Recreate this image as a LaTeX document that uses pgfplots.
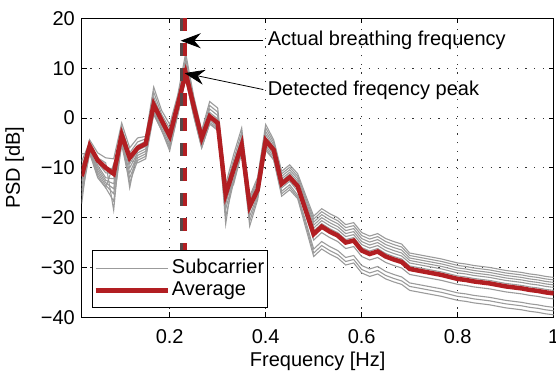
\documentclass[border=0pt]{standalone}
\usepackage{fontspec}
\setmainfont{Liberation Sans}
\usepackage{pgfplots}
\pgfplotsset{compat=1.18}
\usepackage{pgfplotstable}
\usetikzlibrary{arrows.meta}
\definecolor{avgred}{RGB}{178,30,34}
\definecolor{subgray}{RGB}{155,155,155}
\definecolor{actgray}{RGB}{85,72,72}

\pgfplotstableread{
f r g1 g2 g3 g4 g5 g6 g7 g8 g9 g10
0.0167 -11.7 -17.2 -8.7 -9.7 -10.7 -11.7 -12.7 -13.7 -14.7 -15.7 -7.2
0.0333 -5.6 -4.4 -4.8 -5.2 -5.6 -6.0 -6.4 -6.6 -6.8 -7.1 -7.1
0.05 -8.5 -7.0 -8.0 -8.5 -9.0 -9.5 -10.0 -10.5 -11.0 -11.5 -12.0
0.0667 -10.0 -8.0 -9.0 -10.0 -11.0 -12.0 -12.5 -13.0 -13.5 -14.0 -14.0
0.0833 -11.2 -8.2 -18.5 -10.2 -11.2 -12.2 -13.2 -14.2 -15.2 -16.7 -9.2
0.1 -3.4 -1.0 -1.9 -2.6 -3.2 -3.8 -4.2 -4.6 -5.0 -5.4 -5.4
0.1167 -8.0 -6.0 -7.0 -7.8 -14.0 -9.2 -10.0 -11.0 -12.0 -13.0 -8.5
0.1333 -6.0 -4.0 -4.8 -5.5 -6.0 -6.5 -7.0 -7.5 -8.0 -8.5 -9.0
0.15 -5.2 -3.7 -4.2 -4.7 -5.2 -5.7 -6.2 -6.7 -7.2 -7.7 -8.2
0.1667 2.7 6.2 5.2 4.2 3.5 2.7 2.1 1.7 1.2 0.9 0.7
0.1833 -0.5 1.5 0.7 0.1 -0.5 -1.0 -1.5 -2.0 -2.5 -2.5 -2.5
0.2 -3.6 -1.3 -2.1 -2.8 -3.4 -4.1 -4.6 -5.1 -5.6 -6.1 -6.6
0.2167 2.6 4.6 3.8 3.2 2.6 2.1 1.6 1.1 0.8 0.6 0.6
0.2333 9.0 13.0 12.0 11.0 10.2 9.6 9.0 8.6 8.3 8.0 8.0
0.25 2.4 4.4 3.9 3.4 2.9 2.4 1.9 1.4 0.9 0.4 0.4
0.2667 -4.0 -2.5 -3.0 -3.5 -4.0 -4.5 -5.0 -5.5 -5.8 -6.0 -6.0
0.2833 0.3 3.3 2.5 1.8 1.1 0.5 0.0 -0.5 -0.9 -1.2 -1.2
0.3 -1.0 2.0 1.2 0.5 -0.2 -0.7 -1.2 -1.7 -2.0 -2.3 -2.5
0.3167 -15.3 -13.3 -14.1 -14.8 -15.3 -21.3 -16.3 -17.3 -18.3 -19.8 -15.8
0.3333 -10.3 -7.3 -8.3 -9.1 -9.8 -10.3 -10.8 -11.3 -12.3 -12.8 -13.3
0.35 -5.4 -2.0 -2.9 -3.8 -4.6 -5.2 -5.7 -6.2 -6.6 -6.9 -6.9
0.3667 -17.7 -15.7 -16.2 -16.7 -17.2 -17.7 -18.2 -18.7 -19.7 -20.7 -21.7
0.3833 -14.4 -11.9 -12.4 -12.9 -13.4 -13.9 -14.4 -14.9 -15.4 -15.9 -16.4
0.4 -4.5 -1.3 -2.0 -2.7 -3.3 -3.9 -4.5 -5.0 -5.5 -6.0 -6.5
0.4167 -6.4 -4.4 -4.9 -5.4 -5.9 -6.4 -6.9 -7.4 -7.9 -8.4 -8.4
0.4333 -13.2 -10.7 -11.2 -11.7 -12.2 -12.6 -13.0 -14.0 -14.7 -15.2 -15.7
0.45 -11.9 -9.4 -9.9 -10.4 -10.9 -11.3 -11.7 -12.7 -13.4 -13.9 -14.4
0.4667 -13.7 -11.2 -11.7 -12.2 -12.7 -13.2 -13.7 -14.7 -15.5 -15.9 -16.2
0.4833 -18.5 -15.5 -16.0 -16.5 -17.0 -17.5 -18.0 -19.5 -20.7 -21.3 -22.0
0.5 -23.3 -19.7 -20.3 -20.9 -21.5 -22.1 -22.7 -24.5 -26.3 -27.1 -27.8
0.5167 -21.8 -18.2 -18.8 -19.4 -20.0 -20.6 -21.2 -23.0 -24.8 -25.6 -26.3
0.5333 -22.8 -19.2 -19.8 -20.4 -21.0 -21.6 -22.2 -24.0 -25.8 -26.6 -27.3
0.55 -23.6 -20.0 -20.6 -21.2 -21.8 -22.4 -23.0 -24.8 -26.6 -27.4 -28.1
0.5667 -25.0 -21.4 -22.0 -22.6 -23.2 -23.8 -24.4 -26.2 -28.0 -28.8 -29.5
0.5833 -24.6 -21.0 -21.6 -22.2 -22.8 -23.4 -24.0 -25.8 -27.6 -28.4 -29.1
0.6 -26.6 -23.0 -23.6 -24.2 -24.8 -25.4 -26.0 -27.8 -29.6 -30.4 -31.1
0.6167 -27.3 -23.7 -24.3 -24.9 -25.5 -26.1 -26.7 -28.5 -30.3 -31.1 -31.8
0.6333 -26.8 -23.2 -23.8 -24.4 -25.0 -25.6 -26.2 -28.0 -29.8 -30.6 -31.3
0.65 -27.8 -24.2 -24.8 -25.4 -26.0 -26.6 -27.2 -29.0 -30.8 -31.6 -32.3
0.6667 -28.4 -24.8 -25.4 -26.0 -26.6 -27.2 -27.8 -29.6 -31.4 -32.2 -32.9
0.6833 -28.9 -25.3 -25.9 -26.5 -27.1 -27.7 -28.3 -30.1 -31.9 -32.7 -33.4
0.7 -30.3 -27.1 -27.6 -28.1 -28.6 -29.1 -29.7 -31.4 -33.1 -33.8 -34.6
0.7167 -30.6 -27.4 -27.9 -28.4 -28.9 -29.4 -30.0 -31.7 -33.4 -34.1 -34.9
0.7333 -30.9 -27.7 -28.2 -28.7 -29.2 -29.7 -30.3 -32.0 -33.7 -34.4 -35.2
0.75 -31.2 -28.0 -28.5 -29.0 -29.5 -30.0 -30.6 -32.3 -34.0 -34.7 -35.5
0.7667 -31.5 -28.3 -28.8 -29.3 -29.8 -30.3 -30.9 -32.6 -34.3 -35.0 -35.8
0.7833 -31.9 -28.7 -29.2 -29.7 -30.2 -30.7 -31.3 -33.0 -34.7 -35.4 -36.2
0.8 -32.3 -29.1 -29.6 -30.1 -30.6 -31.1 -31.7 -33.4 -35.1 -35.8 -36.6
0.8167 -32.5 -29.3 -29.8 -30.3 -30.8 -31.3 -31.9 -33.6 -35.3 -36.0 -36.8
0.8333 -32.8 -29.6 -30.1 -30.6 -31.1 -31.6 -32.2 -33.9 -35.6 -36.3 -37.1
0.85 -33.0 -29.8 -30.3 -30.8 -31.3 -31.8 -32.4 -34.1 -35.8 -36.5 -37.3
0.8667 -33.2 -30.0 -30.5 -31.0 -31.5 -32.0 -32.6 -34.3 -36.0 -36.7 -37.5
0.8833 -33.5 -30.3 -30.8 -31.3 -31.8 -32.3 -32.9 -34.6 -36.3 -37.0 -37.8
0.9 -33.8 -30.6 -31.1 -31.6 -32.1 -32.6 -33.2 -34.9 -36.6 -37.3 -38.1
0.9167 -34.0 -30.8 -31.3 -31.8 -32.3 -32.8 -33.4 -35.1 -36.8 -37.5 -38.3
0.9333 -34.2 -31.0 -31.5 -32.0 -32.5 -33.0 -33.6 -35.3 -37.0 -37.7 -38.5
0.95 -34.5 -31.3 -31.8 -32.3 -32.8 -33.3 -33.9 -35.6 -37.3 -38.0 -38.8
0.9667 -34.7 -31.5 -32.0 -32.5 -33.0 -33.5 -34.1 -35.8 -37.5 -38.2 -39.0
0.9833 -35.0 -31.8 -32.3 -32.8 -33.3 -33.8 -34.4 -36.1 -37.8 -38.5 -39.3
1.0 -35.2 -32.0 -32.5 -33.0 -33.5 -34.0 -34.6 -36.3 -38.0 -38.7 -39.5
}\psd

\begin{document}
\fontsize{20bp}{24bp}\selectfont
\begin{tikzpicture}
\begin{axis}[
  scale only axis, width=472bp, height=299bp,
  xmin=0.0167, xmax=1, ymin=-40, ymax=20,
  xtick={0.2,0.4,0.6,0.8,1}, xticklabels={0.2,0.4,0.6,0.8,1},
  ytick={-40,-30,-20,-10,0,10,20}, yticklabels={−40,−30,−20,−10,0,10,20},
  grid=major,
  grid style={black!80, line width=0.8bp, dash pattern=on 1.2bp off 7.5bp},
  axis line style={line width=0.8bp},
  tick style={black, line width=0.8bp}, major tick length=5bp,
  tick align=inside,
  xticklabel style={anchor=base, yshift=-25.7bp},
  xlabel={Frequency [Hz]}, ylabel={PSD [dB]},
  xlabel style={at={(axis description cs:0.5,0)}, anchor=base, yshift=-49.4bp},
  ylabel style={at={(axis description cs:-0.142,0.5)}, anchor=center},
  legend style={at={(0.022,0.031)}, anchor=south west, draw=black, line width=0.8bp,
    fill=white, inner xsep=1bp, inner ysep=7bp, row sep=1bp},
  legend cell align=left,
  legend image code/.code={\path (0bp,0bp) -- (12bp,0bp); \draw[#1] (12bp,0bp) -- (72bp,0bp);},
]
\addplot[subgray, line width=1.1bp] table[x=f,y=g1]{\psd};
\addlegendentry{Subcarrier}
\addplot[subgray, line width=1.1bp, forget plot] table[x=f,y=g2]{\psd};
\addplot[subgray, line width=1.1bp, forget plot] table[x=f,y=g3]{\psd};
\addplot[subgray, line width=1.1bp, forget plot] table[x=f,y=g4]{\psd};
\addplot[subgray, line width=1.1bp, forget plot] table[x=f,y=g5]{\psd};
\addplot[subgray, line width=1.1bp, forget plot] table[x=f,y=g6]{\psd};
\addplot[subgray, line width=1.1bp, forget plot] table[x=f,y=g7]{\psd};
\addplot[subgray, line width=1.1bp, forget plot] table[x=f,y=g8]{\psd};
\addplot[subgray, line width=1.1bp, forget plot] table[x=f,y=g9]{\psd};
\addplot[subgray, line width=1.1bp, forget plot] table[x=f,y=g10]{\psd};
\addplot[avgred, line width=4.5bp] table[x=f,y=r]{\psd};
\addlegendentry{Average}
\addplot[actgray, line width=3.5bp, dash pattern=on 13bp off 12bp, forget plot] coordinates {(0.2245,20) (0.2245,-40)};
\addplot[avgred, line width=3.5bp, dash pattern=on 13bp off 12bp, forget plot] coordinates {(0.2315,20) (0.2315,-40)};
\draw[-{Stealth[length=20bp,width=15bp]}, line width=0.8bp] (axis cs:0.395,15.5) -- (axis cs:0.223,15.5);
\draw[-{Stealth[length=20bp,width=15bp]}, line width=0.8bp] (axis cs:0.395,5.7) -- (axis cs:0.231,9.0);
\node[anchor=base west, inner sep=0pt] at (axis cs:0.404,14.5) {Actual breathing frequency};
\node[anchor=base west, inner sep=0pt] at (axis cs:0.404,4.5) {Detected freqency peak};
\end{axis}
\pgfresetboundingbox
\path ([shift={(-81.7bp,-53.7bp)}]current axis.south west) rectangle ++(556bp,371bp);
\end{tikzpicture}
\end{document}
